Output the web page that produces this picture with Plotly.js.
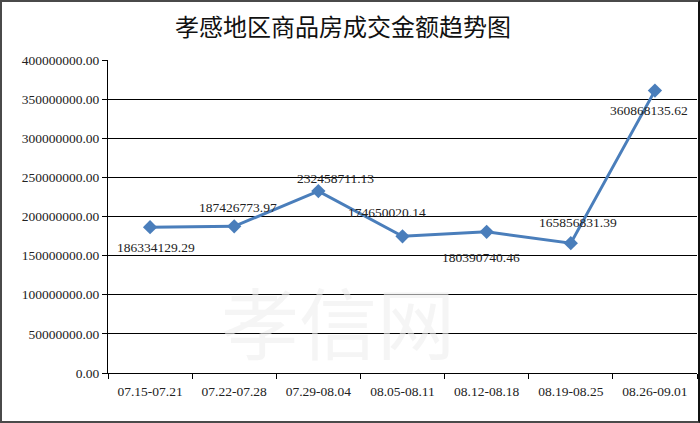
<!DOCTYPE html>
<html>
<head>
<meta charset="utf-8">
<script src="https://cdn.plot.ly/plotly-3.0.1.min.js"></script>
<style>
html,body{margin:0;padding:0;background:#fff;}
#wrap{position:relative;width:700px;height:423px;}
#chart{position:absolute;left:0;top:0;width:700px;height:423px;}
#frame{position:absolute;left:0;top:0;width:696px;height:419px;border:2px solid #4a4a4a;border-right-color:#111;pointer-events:none;}
</style>
</head>
<body>
<div id="wrap"><div id="chart"></div><div id="frame"></div></div>
<script>
var categories = ["07.15-07.21","07.22-07.28","07.29-08.04","08.05-08.11","08.12-08.18","08.19-08.25","08.26-09.01"];
var amounts = [186334129.29, 187426773.97, 232458711.13, 174650020.14, 180390740.46, 165856831.39, 360868135.62];
var titleText = "孝感地区商品房成交金额趋势图";
var watermark = "孝信网";

// label pixel offsets (style only)
var labelDx = [6, 4, 17, -16, -6, 7, -6];
var labelDy = [-20, 19, 13, 24, -26, 21, -20];

var serif = "'Liberation Serif', 'DejaVu Serif', serif";
var fs = 13.5;

var trace = {
  x: categories,
  y: amounts,
  type: "scatter",
  mode: "lines+markers",
  line: {color: "#4A7EBB", width: 3},
  marker: {symbol: "diamond", size: 11, color: "#4A7EBB"},
  cliponaxis: false,
  hoverinfo: "skip"
};

var anns = [{
  text: watermark, xref: "paper", yref: "paper", x: 0.39, y: 0.17,
  xanchor: "center", yanchor: "middle", showarrow: false,
  font: {family: "'Noto Sans CJK SC', sans-serif", size: 78, color: "rgba(238,238,238,0.6)"}
}];
for (var i = 0; i < categories.length; i++) {
  anns.push({
    x: categories[i], y: amounts[i], xref: "x", yref: "y",
    text: amounts[i].toFixed(2), showarrow: false,
    xanchor: "center", yanchor: "middle",
    xshift: labelDx[i], yshift: labelDy[i],
    font: {family: serif, size: fs, color: "#222"}
  });
}

var layout = {
  width: 700, height: 423,
  margin: {l: 108, r: 3, t: 60, b: 50},
  paper_bgcolor: "#fff", plot_bgcolor: "#fff",
  showlegend: false,
  title: {text: titleText, x: 0.49, xanchor: "center", y: 0.935, yanchor: "middle",
          font: {family: "'Noto Sans CJK SC', sans-serif", size: 24, color: "#111"}},
  xaxis: {
    type: "category",
    tickson: "boundaries",
    ticks: "outside", ticklen: 5, tickcolor: "#000", tickwidth: 1,
    showline: true, linecolor: "#000", linewidth: 1,
    showgrid: false, zeroline: false,
    ticklabelstandoff: 6,
    tickfont: {family: serif, size: fs, color: "#222"},
    range: [-0.5, 6.5]
  },
  yaxis: {
    range: [0, 400000000], dtick: 50000000, tick0: 0,
    tickformat: ".2f",
    ticks: "outside", ticklen: 5, tickcolor: "#000", tickwidth: 1,
    showline: true, linecolor: "#000", linewidth: 1,
    showgrid: true, gridcolor: "#000", gridwidth: 1,
    zeroline: false,
    tickfont: {family: serif, size: fs, color: "#222"}
  },
  annotations: anns
};

Plotly.newPlot("chart", [trace], layout, {displayModeBar: false, staticPlot: true});
</script>
</body>
</html>
